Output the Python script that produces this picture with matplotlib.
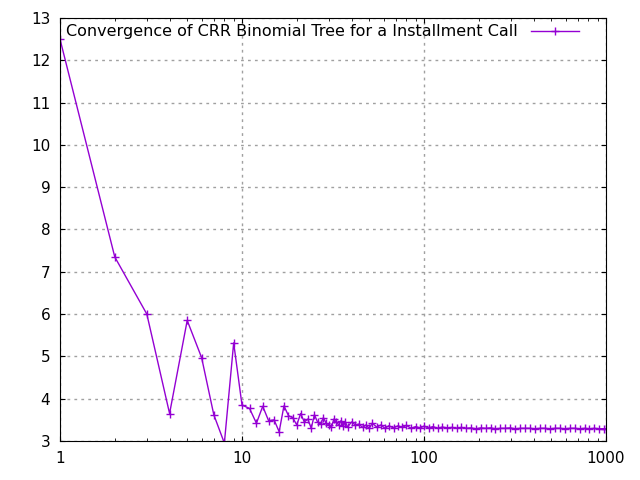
import matplotlib
matplotlib.use('Agg')
import matplotlib.pyplot as plt

# number of tree steps
steps = [1, 2, 3, 4, 5, 6, 7, 8, 9, 10, 11, 12, 13, 14, 15, 16, 17, 18, 19, 20,
         21, 22, 23, 24, 25, 26, 27, 28, 29, 30, 31, 32, 33, 34, 35, 36, 37, 38, 40, 42,
         44, 46, 48, 50, 52, 55, 58, 61, 64, 68, 72, 76, 80, 85, 90, 95, 100, 106, 112, 119,
         126, 134, 142, 151, 160, 170, 181, 193, 205, 218, 232, 247, 263, 280, 298, 317, 337, 359, 382, 407,
         433, 461, 491, 523, 557, 593, 631, 672, 716, 762, 811, 864, 920, 980, 1000]
price = [12.5, 7.35, 6.0, 3.65, 5.85, 4.97, 3.62, 2.95, 5.32, 3.85, 3.77, 3.42, 3.82, 3.48, 3.5, 3.22, 3.83, 3.6, 3.55, 3.38,
         3.65, 3.45, 3.52, 3.3, 3.62, 3.45, 3.4, 3.55, 3.42, 3.38, 3.33, 3.52, 3.44, 3.38, 3.48, 3.35, 3.45, 3.33, 3.45, 3.38,
         3.4, 3.32, 3.38, 3.3, 3.42, 3.33, 3.38, 3.3, 3.36, 3.31, 3.36, 3.32, 3.37, 3.3, 3.34, 3.31, 3.35, 3.31, 3.34, 3.3,
         3.33, 3.31, 3.32, 3.3, 3.32, 3.3, 3.31, 3.29, 3.31, 3.3, 3.31, 3.29, 3.3, 3.3, 3.31, 3.29, 3.3, 3.3, 3.3, 3.29,
         3.3, 3.3, 3.29, 3.3, 3.3, 3.29, 3.3, 3.3, 3.29, 3.3, 3.29, 3.3, 3.29, 3.29, 3.29]

fig = plt.figure(figsize=(6.4, 4.8), dpi=100)
ax = fig.add_axes([60/640, 1 - 441/480, 546/640, 423/480])
ax.plot(steps, price, color='#9400d3', lw=1, marker='+', ms=6, mew=1,
        label='Convergence of CRR Binomial Tree for a Installment Call')
ax.set_xscale('log')
ax.set_xlim(1, 1000)
ax.set_ylim(3, 13)
ax.set_yticks(range(3, 14))
ax.set_xticks([1, 10, 100, 1000])
ax.set_xticklabels(['1', '10', '100', '1000'])
ax.grid(True, color='#a0a0a0', ls=(0, (2, 3)), lw=1)
ax.tick_params(direction='in', which='both', top=True, right=True, labelsize=11, pad=7)
leg = ax.legend(loc='upper left', frameon=False, markerfirst=False, fontsize=11.5,
                handlelength=3, borderaxespad=0.1, borderpad=0.3)
fig.savefig('out.png')
